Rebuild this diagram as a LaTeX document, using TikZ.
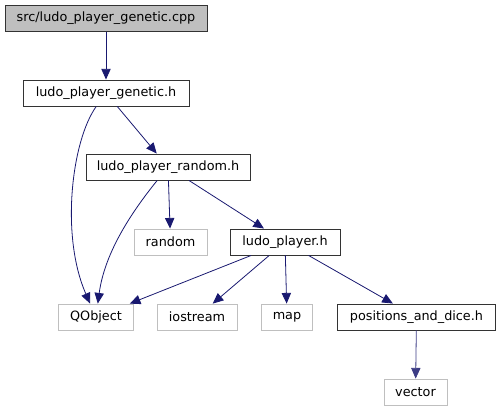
\documentclass[tikz,border=0pt]{standalone}
\usepackage{fontspec}
\setmainfont{DejaVu Sans}
\usetikzlibrary{arrows.meta}
\definecolor{edgeblue}{HTML}{191970}
\definecolor{sysgray}{HTML}{BFBFBF}
\tikzset{
  file/.style={draw=black!80, line width=0.7pt, minimum height=19.5pt, inner sep=0pt, font=\fontsize{9.6}{11}\selectfont},
  sysfile/.style={file, draw=sysgray, line width=0.6pt},
  dep/.style={draw=edgeblue, line width=0.6pt, -{Triangle[length=8pt,width=7pt]}},
}
\begin{document}
\begin{tikzpicture}[x=0.75pt, y=-0.75pt]
  \useasboundingbox (0,0) rectangle (501,411);
  % files of the project
  \node[file, fill=sysgray, minimum width=151.5pt] (cpp) at (106,18.5) {src/ludo\_player\_genetic.cpp};
  \node[file, minimum width=124.5pt] (genh) at (106,93) {ludo\_player\_genetic.h};
  \node[file, minimum width=123pt] (randh) at (168,167) {ludo\_player\_random.h};
  \node[file, minimum width=82.5pt] (playerh) at (285,242) {ludo\_player.h};
  \node[file, minimum width=119pt] (posh) at (416.5,317) {positions\_and\_dice.h};
  % system headers
  \node[sysfile, minimum width=54.75pt] (random) at (170.5,242) {random};
  \node[sysfile, minimum width=56.25pt] (qobj) at (96,317) {QObject};
  \node[sysfile, minimum width=60pt] (iostr) at (197,317) {iostream};
  \node[sysfile, minimum width=38.25pt] (map) at (287,317) {map};
  \node[sysfile, minimum width=47.25pt] (vec) at (415.5,392) {vector};
  % includes
  \draw[dep] (cpp) -- (genh);
  \draw[dep] (genh) -- (randh);
  \draw[dep] (genh) .. controls (72,140) and (60,235) .. (qobj);
  \draw[dep] (randh) .. controls (135,208) and (105,250) .. (qobj);
  \draw[dep] (randh) -- (random);
  \draw[dep] (randh) -- (playerh);
  \draw[dep] (playerh) -- (qobj);
  \draw[dep] (playerh) -- (iostr);
  \draw[dep] (playerh) -- (map);
  \draw[dep] (playerh) -- (posh);
  \draw[dep, draw=edgeblue!85] (posh) -- (vec);
\end{tikzpicture}
\end{document}
